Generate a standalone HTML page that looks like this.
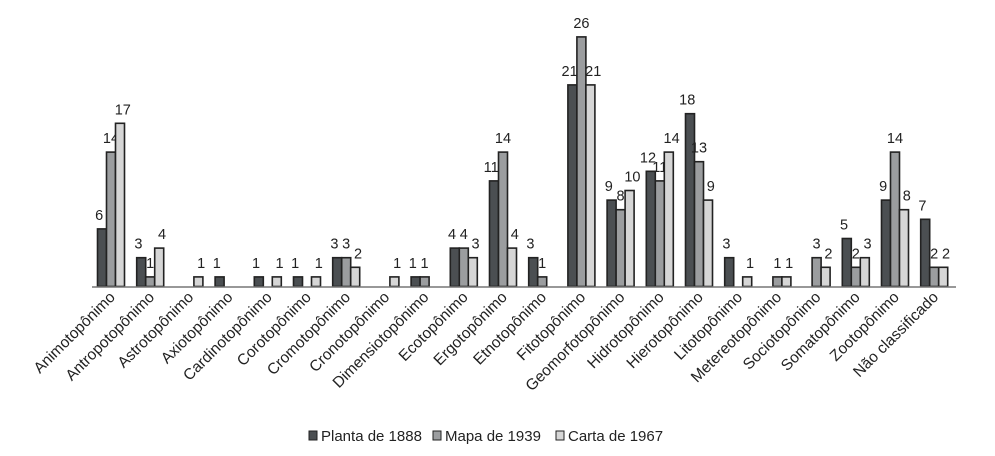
<!DOCTYPE html>
<html><head><meta charset="utf-8"><style>
body{margin:0;background:#fff;width:995px;height:451px;overflow:hidden;font-family:"Liberation Sans","DejaVu Sans",sans-serif}
svg text{font-family:"Liberation Sans","DejaVu Sans",sans-serif}
</style></head><body>
<svg id="chart" width="995" height="451" xmlns="http://www.w3.org/2000/svg"></svg>
<script>
const categories=["Animotopônimo","Antropotopônimo","Astrotopônimo","Axiotopônimo","Cardinotopônimo","Corotopônimo","Cromotopônimo","Cronotopônimo","Dimensiotopônimo","Ecotopônimo","Ergotopônimo","Etnotopônimo","Fitotopônimo","Geomorfotopônimo","Hidrotopônimo","Hierotopônimo","Litotopônimo","Metereotopônimo","Sociotopônimo","Somatopônimo","Zootopônimo","Não classificado"];
const planta1888=[6,3,0,1,1,1,3,0,1,4,11,3,21,9,12,18,3,0,0,5,9,7];
const mapa1939=[14,1,0,0,0,0,3,0,1,4,14,1,26,8,11,13,0,1,3,2,14,2];
const carta1967=[17,4,1,0,1,1,2,1,0,3,4,0,21,10,14,9,1,1,2,3,8,2];
const seriesNames=["Planta de 1888","Mapa de 1939","Carta de 1967"];
const svg=document.getElementById('chart');
const NS="http://www.w3.org/2000/svg";
const colors=["#4b4f52","#9b9d9f","#d6d6d6"];
const base=286.5, unit=9.6, x0=111, step=39.2, bw=9;
const yS=v=>base-v*unit;
const xC=i=>x0+i*step;
const offs=[-7,0,7];
function mk(tag,attrs){const e=document.createElementNS(NS,tag);for(const k in attrs)e.setAttribute(k,attrs[k]);svg.appendChild(e);return e;}
const series=[planta1888,mapa1939,carta1967];
series.forEach((vals,s)=>{
  vals.forEach((v,i)=>{
    if(v<=0)return;
    const x=xC(i)-1.5*bw+s*bw;
    const r=mk('rect',{x:x,y:yS(v),width:bw,height:v*unit,fill:colors[s],stroke:"#222",'stroke-width':1.6});
    
    
    const t=mk('text',{x:x+bw/2+offs[s]*0.4,y:yS(v)-9,'text-anchor':'middle','font-size':14.5,fill:"#222"});
    t.textContent=v;
    
    
  });
});
const ax=mk('line',{x1:92,y1:base+0.5,x2:956,y2:base+0.5,stroke:"#777",'stroke-width':1.5});


categories.forEach((c,i)=>{
  const x=xC(i)+5, y=298;
  const t=mk('text',{x:x,y:y,'text-anchor':'end','font-size':15.5,fill:"#222",transform:`rotate(-45 ${x} ${y})`});
  t.textContent=c;
  
  
});
const lx=[309,433,556];
seriesNames.forEach((n,s)=>{
  const r=mk('rect',{x:lx[s],y:431,width:8,height:9,fill:colors[s],stroke:"#222",'stroke-width':1});
  
  
  const t=mk('text',{x:lx[s]+12,y:441,'font-size':15,fill:"#222"});
  t.textContent=n;
  
  
});
</script>
</body></html>
